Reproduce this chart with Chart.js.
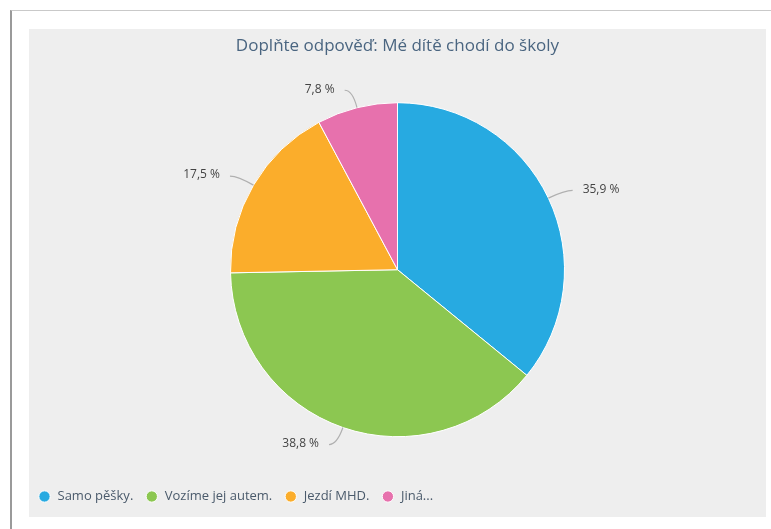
<!DOCTYPE html>
<html>
<head>
<meta charset="utf-8">
<script src="https://cdn.jsdelivr.net/npm/chart.js@4/dist/chart.umd.min.js"></script>
<style>
  html, body { margin: 0; padding: 0; background: #fff; }
  body { width: 771px; height: 529px; position: relative; overflow: hidden; }
  .ramecek { position: absolute; left: 10px; top: 10px; right: 0; bottom: 0;
             border-top: 1px solid #c9c9c9; border-left: 2px solid #9a9a9a; }
  #graf { position: absolute; left: 29px; top: 29px; background: #eeeeee; }
</style>
</head>
<body>
<div class="ramecek"></div>
<canvas id="graf" width="737" height="488"></canvas>
<script>
const odpovedi = ['Samo pěšky.', 'Vozíme jej autem.', 'Jezdí MHD.', 'Jiná...'];
const procenta = [35.9, 38.8, 17.5, 7.8];
const barvy = ['#27aae1', '#8cc751', '#fbad2b', '#e771ad'];

// popisky s procenty venku u kolace, s ohnutou vodici carou
const popiskyVen = {
    id: 'popiskyVen',
    afterDatasetsDraw(chart) {
        const ctx = chart.ctx;
        const meta = chart.getDatasetMeta(0);
        ctx.save();
        ctx.font = '12px "Open Sans"';
        ctx.fillStyle = '#444444';
        ctx.strokeStyle = '#b0b0b0';
        ctx.lineWidth = 1.2;
        ctx.textBaseline = 'middle';
        meta.data.forEach((arc, i) => {
            const uhel = (arc.startAngle + arc.endAngle) / 2;
            const r = arc.outerRadius;
            const ax = arc.x + Math.cos(uhel) * r;
            const ay = arc.y + Math.sin(uhel) * r;
            const bx = arc.x + Math.cos(uhel) * (r + 18);
            const by = arc.y + Math.sin(uhel) * (r + 18);
            const vpravo = Math.cos(uhel) >= 0;
            const ex = bx + (vpravo ? 8 : -8);
            ctx.beginPath();
            ctx.moveTo(ax, ay);
            ctx.quadraticCurveTo(bx, by, ex, by);
            ctx.stroke();
            const text = procenta[i].toFixed(1).replace('.', ',') + ' %';
            ctx.textAlign = vpravo ? 'left' : 'right';
            ctx.fillText(text, ex + (vpravo ? 10 : -10), by - 1);
        });
        ctx.restore();
    }
};

let ctx = document.getElementById('graf').getContext('2d');
new Chart(ctx, {
    type: 'pie',
    data: {
        labels: odpovedi,
        datasets: [{
            data: procenta,
            backgroundColor: barvy,
            borderColor: '#ffffff',
            borderWidth: 1
        }]
    },
    options: {
        responsive: false,
        animation: false,
        radius: 167,
        layout: { padding: { left: -3, right: -3, top: 0, bottom: 4 } },
        plugins: {
            title: {
                display: true,
                text: 'Doplňte odpověď: Mé dítě chodí do školy',
                color: '#4a6580',
                font: { family: 'Open Sans', size: 17, weight: 'normal' },
                padding: { top: 7, bottom: 5 }
            },
            legend: {
                position: 'bottom',
                align: 'start',
                labels: {
                    usePointStyle: true,
                    pointStyle: 'circle',
                    boxWidth: 13,
                    boxHeight: 8,
                    padding: 12,
                    color: '#4a5a6b',
                    font: { family: 'Open Sans', size: 13 }
                }
            },
            tooltip: { enabled: false }
        }
    },
    plugins: [popiskyVen]
});
</script>
</body>
</html>
